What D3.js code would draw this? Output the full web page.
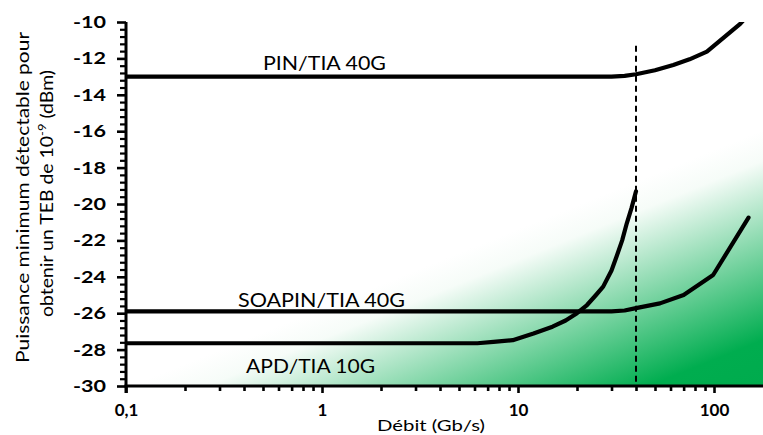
<!DOCTYPE html>
<html><head><meta charset="utf-8">
<script src="https://cdn.jsdelivr.net/npm/d3@7"></script>
<style>
html,body{margin:0;padding:0;background:#fff;}
svg{display:block;}
text{font-family:Lato,"Open Sans",sans-serif;fill:#000;}
</style></head>
<body>
<svg id="chart" width="763" height="435"></svg>
<script>
// ---- data ----
const pinRate   = [0.1, 30, 35, 40, 50, 62, 75, 92, 136, 150];
const pinPower  = [-13, -13, -12.96, -12.87, -12.65, -12.36, -12.05, -11.63, -10.1, -9.6];
const soaRate   = [0.1, 30, 35, 40, 53, 70, 99, 150];
const soaPower  = [-25.9, -25.9, -25.85, -25.72, -25.46, -25.0, -23.9, -20.75];
const apdRate   = [0.1, 6.2, 7.5, 9.4, 12, 15, 17.5, 20, 22.5, 25, 27.2, 30, 31.8, 34, 35.9, 38, 40];
const apdPower  = [-27.65, -27.65, -27.58, -27.48, -27.12, -26.74, -26.4, -26.0, -25.55, -25.0, -24.54, -23.65, -22.9, -22.0, -21.06, -20.2, -19.3];
const seriesNames = ["PIN/TIA 40G", "SOAPIN/TIA 40G", "APD/TIA 10G"];
const markerRate = 40;
const markerTop = -11.3;
const yTicks = [-10, -12, -14, -16, -18, -20, -22, -24, -26, -28, -30];
const xTicks = [0.1, 1, 10, 100];
const xTickLabels = ["0,1", "1", "10", "100"];
const xTitle = "Débit (Gb/s)";
const yTitle1 = "Puissance minimum détectable pour";

// ---- layout ----
const L = 126, R = 763, T = 22, B = 386;
const svg = d3.select("#chart");
const x = d3.scaleLog().domain([0.1, Math.pow(10, (R - L) / 196 - 1)]).range([L, R]);
const y = d3.scaleLinear().domain([-30, -10]).range([B, T]);

const defs = svg.append("defs");
const grad = defs.append("linearGradient").attr("id", "g").attr("gradientUnits", "userSpaceOnUse")
  .attr("x1", 674).attr("y1", 166).attr("x2", 763).attr("y2", 386);
grad.append("stop").attr("offset", 0).attr("stop-color", "#ffffff");
grad.append("stop").attr("offset", 0.12).attr("stop-color", "#f6fcf8");
grad.append("stop").attr("offset", 0.82).attr("stop-color", "#00ad4f");
grad.append("stop").attr("offset", 1).attr("stop-color", "#00ab4d");
defs.append("clipPath").attr("id", "clip").append("rect")
  .attr("x", L).attr("y", T).attr("width", R - L).attr("height", B - T);

svg.append("rect").attr("x", L).attr("y", T).attr("width", R - L).attr("height", B - T).attr("fill", "url(#g)");

// marker line
svg.append("line").attr("x1", x(markerRate)).attr("x2", x(markerRate))
  .attr("y1", y(markerTop)).attr("y2", y(-30))
  .attr("stroke", "#000").attr("stroke-width", 2).attr("stroke-dasharray", "6,4");

// curves
const line = d3.line().x(d => x(d[0])).y(d => y(d[1])).curve(d3.curveLinear);
const series = [
  d3.zip(pinRate, pinPower),
  d3.zip(soaRate, soaPower),
  d3.zip(apdRate, apdPower)
];
const g = svg.append("g").attr("clip-path", "url(#clip)");
g.selectAll("path.s").data(series).join("path").attr("class", "s")
  .attr("d", line).attr("fill", "none").attr("stroke", "#000")
  .attr("stroke-width", 4.2).attr("stroke-linejoin", "round").attr("stroke-linecap", "round");

// series labels
const labelPos = [[x(0.5), 69.5, 123], [x(0.373), 306.7, 167], [x(0.41), 373, 129]];
svg.selectAll("text.lab").data(seriesNames).join("text").attr("class", "lab")
  .attr("x", (d, i) => labelPos[i][0]).attr("y", (d, i) => labelPos[i][1])
  .attr("textLength", (d, i) => labelPos[i][2]).attr("lengthAdjust", "spacingAndGlyphs")
  .attr("font-size", 20).text(d => d);

// y axis
const yMinor = d3.range(-30, -10.01, 0.4).filter(v => Math.abs(v / 2 - Math.round(v / 2)) > 0.01);
const ya = svg.append("g").attr("transform", `translate(${L},0)`);
ya.append("g").call(d3.axisLeft(y).tickValues(yMinor).tickSize(6).tickFormat(""))
  .call(s => s.select(".domain").remove())
  .selectAll("line").attr("stroke", "#000").attr("stroke-width", 2.2);
const yMaj = ya.append("g").call(d3.axisLeft(y).tickValues(yTicks).tickSize(9).tickFormat(d => d));
yMaj.select(".domain").remove();
yMaj.selectAll("line").attr("stroke", "#000").attr("stroke-width", 2.6);
yMaj.selectAll("text").attr("x", -20).attr("font-size", 17).attr("font-weight", "bold")
  .attr("font-family", "Lato,sans-serif").attr("fill", "#000")
  .attr("textLength", 33).attr("lengthAdjust", "spacingAndGlyphs");

// x axis
const xMinor = [];
[0.1, 1, 10, 100].forEach(dec => d3.range(2, 10).forEach(k => { const v = k * dec; if (v <= x.domain()[1]) xMinor.push(v); }));
const xa = svg.append("g").attr("transform", `translate(0,${B})`);
xa.append("g").call(d3.axisBottom(x).tickValues(xMinor).tickSize(5).tickFormat(""))
  .call(s => s.select(".domain").remove())
  .selectAll("line").attr("stroke", "#000").attr("stroke-width", 2.6);
const xMaj = xa.append("g").call(d3.axisBottom(x).tickValues(xTicks).tickSize(7).tickFormat((d, i) => xTickLabels[i]));
xMaj.select(".domain").remove();
xMaj.selectAll("line").attr("stroke", "#000").attr("stroke-width", 2.6);
xMaj.selectAll("text").attr("y", 30).attr("dy", 0).attr("font-size", 17).attr("font-weight", "bold")
  .attr("font-family", "Lato,sans-serif").attr("fill", "#000").attr("dx", 0);

// axis lines
svg.append("line").attr("x1", L).attr("x2", L).attr("y1", T).attr("y2", B + 7)
  .attr("stroke", "#000").attr("stroke-width", 3);
svg.append("line").attr("x1", L - 1.5).attr("x2", R).attr("y1", B).attr("y2", B)
  .attr("stroke", "#000").attr("stroke-width", 3);

// titles
svg.append("text").attr("x", 431).attr("y", 431).attr("text-anchor", "middle")
  .attr("font-size", 16).attr("textLength", 108).attr("lengthAdjust", "spacingAndGlyphs").text(xTitle);

const yt = svg.append("g");
yt.append("text").attr("transform", "translate(29,197.5) rotate(-90)").attr("text-anchor", "middle")
  .attr("font-size", 18).attr("textLength", 331).attr("lengthAdjust", "spacingAndGlyphs").text(yTitle1);
const t2 = yt.append("text").attr("transform", "translate(53,193.5) rotate(-90)").attr("text-anchor", "middle")
  .attr("font-size", 18).attr("textLength", 247).attr("lengthAdjust", "spacingAndGlyphs");
t2.append("tspan").text("obtenir un TEB de 10");
t2.append("tspan").attr("font-size", 12).attr("dy", -7).text("-9");
t2.append("tspan").attr("dy", 7).text(" (dBm)");
</script>
</body></html>
